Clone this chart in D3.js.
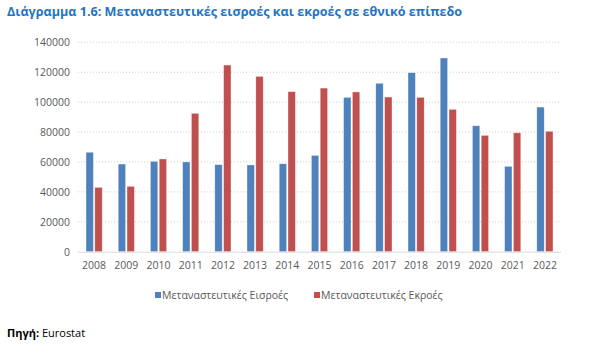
<!DOCTYPE html>
<html><head><meta charset="utf-8">
<script src="https://cdn.jsdelivr.net/npm/d3@7"></script>
<style>body{margin:0;background:#fff;} svg{display:block;}</style>
</head><body>
<script>
const years = ["2008","2009","2010","2011","2012","2013","2014","2015","2016","2017","2018","2019","2020","2021","2022"];
const inflows = [66500,58600,60400,60000,58200,58000,58800,64400,103200,112600,119700,129500,84200,57100,96700];
const outflows = [43000,43700,62000,92500,124800,117200,107000,109400,106800,103400,103200,95200,77800,79500,80500];
const seriesNames = ["Μεταναστευτικές Εισροές","Μεταναστευτικές Εκροές"];
const yTicks = [0,20000,40000,60000,80000,100000,120000,140000];
const colors = ["#4F81BD","#C0504D"];

const W=597,H=344;
const svg=d3.select("body").append("svg").attr("width",W).attr("height",H);
const font="'Open Sans', 'Liberation Sans', sans-serif";

svg.append("text").attr("x",7).attr("y",16).attr("font-family",font).attr("font-weight","bold")
  .attr("font-size",12.6).attr("fill","#1F74C4").text("Διάγραμμα 1.6: Μεταναστευτικές εισροές και εκροές σε εθνικό επίπεδο");

const x=d3.scaleBand().domain(years).range([78,561]).paddingInner(0).paddingOuter(0);
const y=d3.scaleLinear().domain([0,140000]).range([251.7,42.3]);

// gridlines
svg.append("g").selectAll("line").data(yTicks.filter(d=>d>0)).join("line")
  .attr("x1",78).attr("x2",561).attr("y1",d=>y(d)).attr("y2",d=>y(d))
  .attr("stroke","#D0D0D0").attr("stroke-width",1).attr("stroke-dasharray","1,2");

const yAxis=svg.append("g").attr("transform","translate(74,0)")
  .call(d3.axisLeft(y).tickValues(yTicks).tickFormat(d3.format("d")).tickSize(0).tickPadding(0));
yAxis.select(".domain").remove();
yAxis.selectAll("text").attr("font-family",font).attr("font-size",10.5).attr("fill","#595959").attr("x",-4);

const bw=7.4, gap=1.4;
const g=svg.append("g");
[inflows,outflows].forEach((vals,si)=>{
  g.append("g").selectAll("rect").data(vals).join("rect")
   .attr("x",(d,i)=>x(years[i])+x.bandwidth()/2 + (si===0 ? -gap/2-bw : gap/2))
   .attr("width",bw)
   .attr("y",d=>y(d)).attr("height",d=>y(0)-y(d))
   .attr("fill",colors[si]).attr("stroke","#fff").attr("stroke-opacity",0.6).attr("stroke-width",0.6);
});

// baseline
svg.append("line").attr("x1",78).attr("x2",561).attr("y1",y(0)+0.5).attr("y2",y(0)+0.5)
  .attr("stroke","#D9D9D9").attr("stroke-width",1);

const xAxis=svg.append("g").attr("transform",`translate(0,${y(0)})`)
  .call(d3.axisBottom(x).tickSize(0).tickPadding(10));
xAxis.select(".domain").remove();
xAxis.selectAll("text").attr("font-family",font).attr("font-size",10.5).attr("fill","#595959");

// legend
const leg=[{x:155,tx:162},{x:314,tx:321}];
seriesNames.forEach((n,i)=>{
  svg.append("rect").attr("x",leg[i].x).attr("y",292).attr("width",6).attr("height",6).attr("fill",colors[i]);
  svg.append("text").attr("x",leg[i].tx).attr("y",299).attr("font-family",font).attr("font-size",10.5)
    .attr("fill","#595959").text(n);
});

const src=svg.append("text").attr("x",7).attr("y",337).attr("font-family",font).attr("font-size",11).attr("fill","#000");
src.append("tspan").attr("font-weight","bold").text("Πηγή:");
src.append("tspan").text(" Eurostat");
</script>
</body></html>
